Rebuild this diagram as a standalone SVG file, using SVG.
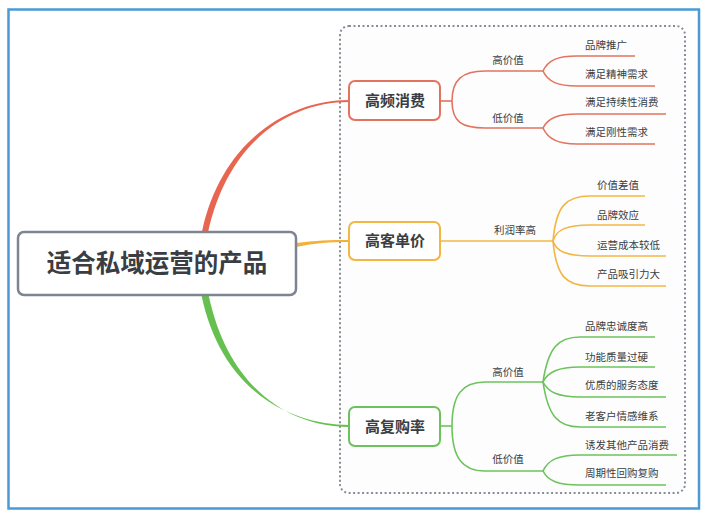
<svg xmlns="http://www.w3.org/2000/svg" width="710" height="518" viewBox="0 0 710 518">
<style>
text{font-family:"Noto Sans CJK SC","Noto Sans",sans-serif;fill:#3a3d42}
.leaf{font-size:10.5px}
.lab{font-size:10.5px;text-anchor:middle}
.br{font-size:15px;font-weight:bold;text-anchor:middle}
.red{stroke:#e2735f}
.org{stroke:#f2b643}
.grn{stroke:#6cc35b}
.ln{fill:none;stroke-width:1.6}
.node{fill:#fff;stroke-width:2}
</style>
<rect x="0" y="0" width="710" height="518" fill="#fff"/>
<rect x="8.5" y="9.5" width="690.5" height="499" fill="#fff" stroke="#4a9ad6" stroke-width="2.5"/>
<rect x="340" y="26" width="345" height="467" rx="9" fill="#fdfdfe" stroke="#878d97" stroke-width="2" stroke-dasharray="2 2.5"/>
<g id="connectors">
<path d="M202,231.4 C222,139.4 290,100 349,100 L349,102 C290,102 228,140.6 208,232.6 Z" fill="#e8654f"/>
<path d="M296,243 C315,240.5 330,240 349,240 L349,242 C330,242 315,243 296,247 Z" fill="#f2b23a"/>
<path d="M201.6,295.7 C221.6,390.7 290,425 349,425 L349,427 C290,427 228.4,389.3 208.4,294.3 Z" fill="#66c04f"/>
<g class="ln red">
<path d="M440,101 H452"/>
<path d="M452,101 C452,80 462,71 485,71 H543"/>
<path d="M452,101 C452,122 462,128 485,128 H543"/>
<path d="M543,71 C548,60 558,56 577,56 H635"/>
<path d="M543,71 C548,82 558,86 577,86 H655"/>
<path d="M543,128 C548,118 558,114 577,114 H666"/>
<path d="M543,128 C548,139 558,144 577,144 H655"/>
</g>
<g class="ln org">
<path d="M440,241 H553"/>
<path d="M553,241 C556,206 566,196 590,196 H645"/>
<path d="M553,241 C556,230 566,225 590,225 H645"/>
<path d="M553,241 C556,251 566,256 590,256 H666"/>
<path d="M553,241 C556,276 566,286 590,286 H666"/>
</g>
<g class="ln grn">
<path d="M440,426 H452"/>
<path d="M452,426 C452,395 462,382 485,382 H543"/>
<path d="M452,426 C452,457 462,471 485,471 H543"/>
<path d="M543,382 C548,348 558,337 580,337 H655"/>
<path d="M543,382 C548,372 558,367 580,367 H655"/>
<path d="M543,382 C548,392 558,397 580,397 H666"/>
<path d="M543,382 C548,416 558,427 580,427 H666"/>
<path d="M543,471 C548,460 558,455 580,455 H677"/>
<path d="M543,471 C548,481 558,485 580,485 H666"/>
</g>
</g>
<g id="root">
<rect x="18" y="232" width="278" height="63" rx="6" fill="#fff" stroke="#7d8592" stroke-width="2.5"/>
<text x="157" y="272" font-size="24.5" font-weight="bold" text-anchor="middle">适合私域运营的产品</text>
</g>
<g id="n1">
<rect class="node red" x="349" y="81" width="91" height="39" rx="6"/>
<text class="br" x="395" y="106">高频消费</text>
</g>
<g id="n2">
<rect class="node org" x="349" y="222" width="91" height="38" rx="6"/>
<text class="br" x="395" y="246">高客单价</text>
</g>
<g id="n3">
<rect class="node grn" x="349" y="407" width="91" height="39" rx="6"/>
<text class="br" x="395" y="432">高复购率</text>
</g>
<g id="n1-labels">
<text class="lab" x="508" y="64">高价值</text>
<text class="lab" x="508" y="122">低价值</text>
<text class="leaf" x="585" y="49">品牌推广</text>
<text class="leaf" x="585" y="78">满足精神需求</text>
<text class="leaf" x="585" y="105.5">满足持续性消费</text>
<text class="leaf" x="585" y="136">满足刚性需求</text>
</g>
<g id="n2-labels">
<text class="lab" x="515" y="234">利润率高</text>
<text class="leaf" x="597" y="189">价值差值</text>
<text class="leaf" x="597" y="219">品牌效应</text>
<text class="leaf" x="597" y="249">运营成本较低</text>
<text class="leaf" x="597" y="278">产品吸引力大</text>
</g>
<g id="n3-labels">
<text class="lab" x="508" y="376">高价值</text>
<text class="lab" x="508" y="463">低价值</text>
<text class="leaf" x="585" y="330">品牌忠诚度高</text>
<text class="leaf" x="585" y="360.5">功能质量过硬</text>
<text class="leaf" x="585" y="389">优质的服务态度</text>
<text class="leaf" x="585" y="420">老客户情感维系</text>
<text class="leaf" x="585" y="449">诱发其他产品消费</text>
<text class="leaf" x="585" y="477">周期性回购复购</text>
</g>
</svg>
